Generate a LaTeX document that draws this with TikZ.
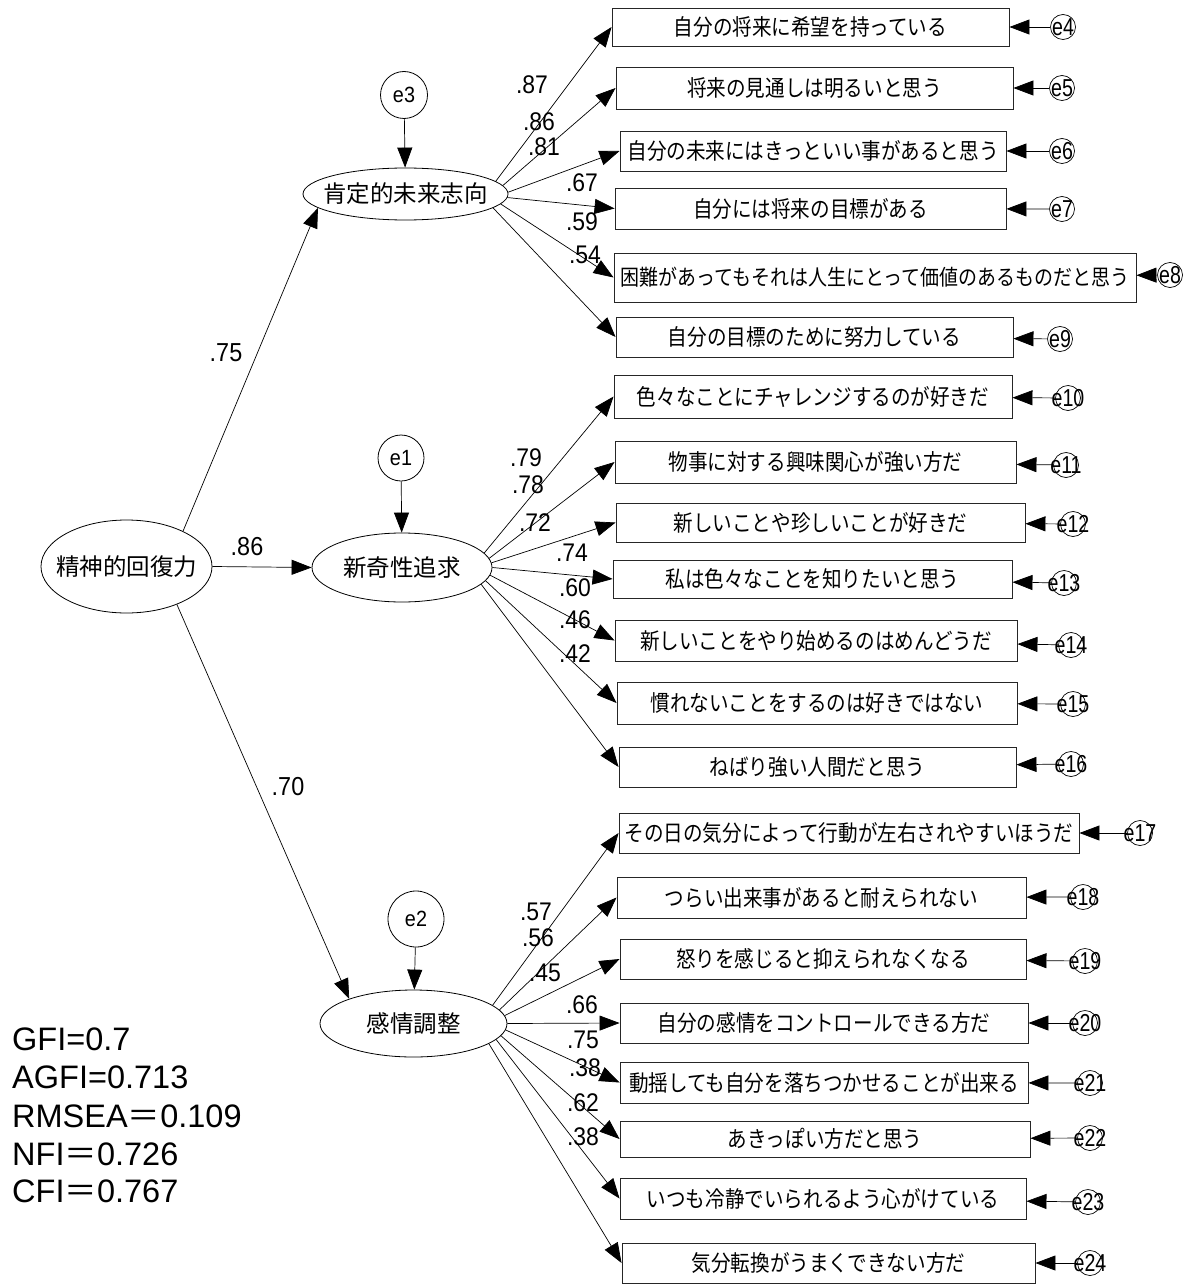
\documentclass[tikz,border=0pt]{standalone}
\usepackage{fontspec}
\setmainfont{Liberation Sans}
\newfontfamily\jpfont{Noto Sans CJK JP}
\newfontfamily\jpboxfont[FakeStretch=0.87]{Noto Sans CJK JP}
\newfontfamily\numfont[FakeStretch=0.9]{Liberation Sans}
\newfontfamily\efont[FakeStretch=0.8]{Liberation Sans}
\usetikzlibrary{arrows.meta,shapes.geometric}
\tikzset{
  latent/.style={draw=black, ellipse, inner xsep=-60pt, inner ysep=-20pt, line width=0.8pt,
    font=\jpfont\fontsize{23.5}{28}\selectfont},
  obsbox/.style={draw=black!85, rectangle, inner sep=0pt, line width=0.9pt,
    font=\jpboxfont\fontsize{22.5}{27}\selectfont},
  ecirc/.style={draw=black, circle, minimum size=25pt, inner sep=-15pt, line width=0.7pt,
    font=\efont\fontsize{24.5}{26}\selectfont},
  bigcirc/.style={draw=black, circle, inner sep=1pt, line width=0.8pt,
    font=\numfont\fontsize{22}{24}\selectfont},
  arr/.style={-{Triangle[length=20pt,width=15pt]}, line width=0.7pt, black},
  lbl/.style={inner sep=0pt, font=\numfont\fontsize{25.5}{28}\selectfont},
  mlbl/.style={inner sep=0pt, font=\numfont\fontsize{26}{30}\selectfont},
  fitidx/.style={inner sep=0pt, anchor=base west, font=\fontsize{32.5}{36}\selectfont}
}
\begin{document}
\begin{tikzpicture}[x=1pt,y=-1pt]
\useasboundingbox[fill=white] (0,0) rectangle (1199,1284);

% latent variables
\node[latent, minimum width=171pt, minimum height=93pt] (F0) at (126.5,566.5) {精神的回復力};
\node[latent, minimum width=205pt, minimum height=52pt] (F1) at (405.5,194) {肯定的未来志向};
\node[latent, minimum width=180pt, minimum height=69pt] (F2) at (402,567.5) {新奇性追求};
\node[latent, minimum width=187pt, minimum height=67pt] (F3) at (413.5,1023.5) {感情調整};

% disturbances
\node[bigcirc, minimum size=47pt] (e3) at (404,95) {e3};
\node[bigcirc, minimum size=46pt] (e1) at (401,458) {e1};
\node[bigcirc, minimum size=56pt] (e2) at (416,919) {e2};
\draw[arr] (e3) -- (F1);
\draw[arr] (e1) -- (F2);
\draw[arr] (e2) -- (F3);

% structural paths
\draw[arr] (F0.32.4) -- (F1.189);
\draw[arr] (F0.east) -- (F2.west);
\draw[arr] (F0.-37.9) -- (F3.159.4);
\node[mlbl] (p1) at (226,353) {.75};
\node[mlbl] (p2) at (247,547) {.86};
\node[mlbl] (p3) at (288,787) {.70};

% group 1 boxes
\node[obsbox, minimum width=397pt, minimum height=38pt] (B4) at (810.5,27) {自分の将来に希望を持っている};
\node[obsbox, minimum width=397pt, minimum height=42pt] (B5) at (814.5,88) {将来の見通しは明るいと思う};
\node[obsbox, minimum width=386pt, minimum height=40pt] (B6) at (813,151) {自分の未来にはきっといい事があると思う};
\node[obsbox, minimum width=391pt, minimum height=41pt] (B7) at (810.5,208.5) {自分には将来の目標がある};
\node[obsbox, minimum width=522pt, minimum height=49pt, font=\jpboxfont\fontsize{21.8}{26}\selectfont] (B8) at (875,277.5) {困難があってもそれは人生にとって価値のあるものだと思う};
\node[obsbox, minimum width=397pt, minimum height=40pt] (B9) at (814.5,337) {自分の目標のために努力している};

% group 2 boxes
\node[obsbox, minimum width=398pt, minimum height=43pt] (B10) at (813,396.5) {色々なことにチャレンジするのが好きだ};
\node[obsbox, minimum width=401pt, minimum height=42pt] (B11) at (815.5,462) {物事に対する興味関心が強い方だ};
\node[obsbox, minimum width=409pt, minimum height=39pt] (B12) at (820.5,522.5) {新しいことや珍しいことが好きだ};
\node[obsbox, minimum width=399pt, minimum height=38pt] (B13) at (812.5,579) {私は色々なことを知りたいと思う};
\node[obsbox, minimum width=402pt, minimum height=41pt] (B14) at (816,640.5) {新しいことをやり始めるのはめんどうだ};
\node[obsbox, minimum width=400pt, minimum height=42pt] (B15) at (817,703) {慣れないことをするのは好きではない};
\node[obsbox, minimum width=397pt, minimum height=40pt] (B16) at (817.5,767) {ねばり強い人間だと思う};

% group 3 boxes
\node[obsbox, minimum width=460pt, minimum height=40pt] (B17) at (849,833) {その日の気分によって行動が左右されやすいほうだ};
\node[obsbox, minimum width=409pt, minimum height=41pt] (B18) at (821.5,897.5) {つらい出来事があると耐えられない};
\node[obsbox, minimum width=406pt, minimum height=40pt] (B19) at (823,959) {怒りを感じると抑えられなくなる};
\node[obsbox, minimum width=408pt, minimum height=40pt] (B20) at (824,1023) {自分の感情をコントロールできる方だ};
\node[obsbox, minimum width=408pt, minimum height=41pt] (B21) at (824,1082.5) {動揺しても自分を落ちつかせることが出来る};
\node[obsbox, minimum width=410pt, minimum height=36pt] (B22) at (825,1139) {あきっぽい方だと思う};
\node[obsbox, minimum width=406pt, minimum height=41pt] (B23) at (823,1198.5) {いつも冷静でいられるよう心がけている};
\node[obsbox, minimum width=413pt, minimum height=40pt] (B24) at (828.5,1263) {気分転換がうまくできない方だ};

% error terms
\foreach \n/\x/\y in {4/1063/27, 5/1062/88, 6/1062/151, 7/1062/209, 8/1170/275, 9/1060/339,
  10/1068/398, 11/1066/465, 12/1073/524, 13/1064/583, 14/1071/645, 15/1073/704, 16/1071/764,
  17/1140/833, 18/1083/897, 19/1085/961, 20/1085/1023, 21/1090/1083, 22/1090/1138, 23/1088/1202, 24/1090/1263}{
  \node[ecirc] (e\n) at (\x,\y) {e\n};
  \draw[arr] (e\n) -- (B\n);
}

% loadings, group 1
\foreach \b/\a in {4/8, 5/5, 6/1, 7/-2, 8/-6, 9/-9}{
  \draw[arr] (F1.\a) -- (B\b.west);
}
% group 2
\foreach \b/\a in {10/10, 11/6.5, 12/3, 13/-0.6, 14/-5.6, 15/-9, 16/-12.6}{
  \draw[arr] (F2.\a) -- (B\b.west);
}
% group 3
\foreach \b/\a in {17/13.5, 18/9.8, 19/5, 20/-0.6, 21/-4.3, 22/-8.2, 23/-11.2, 24/-15}{
  \draw[arr] (F3.\a) -- (B\b.west);
}

% loading labels
\node[lbl] (l4) at (532,85) {.87};
\node[lbl] (l5) at (539,122) {.86};
\node[lbl] (l6) at (544,147) {.81};
\node[lbl] (l7) at (582,183) {.67};
\node[lbl] (l8) at (582,222) {.59};
\node[lbl] (l9) at (585,255) {.54};
\node[lbl] (l10) at (526,458) {.79};
\node[lbl] (l11) at (528,485) {.78};
\node[lbl] (l12) at (535,523) {.72};
\node[lbl] (l13) at (572,553) {.74};
\node[lbl] (l14) at (575,588) {.60};
\node[lbl] (l15) at (575,620) {.46};
\node[lbl] (l16) at (575,654) {.42};
\node[lbl] (l17) at (536,912) {.57};
\node[lbl] (l18) at (538,938) {.56};
\node[lbl] (l19) at (545,973) {.45};
\node[lbl] (l20) at (582,1005) {.66};
\node[lbl] (l21) at (583,1040) {.75};
\node[lbl] (l22) at (585,1068) {.38};
\node[lbl] (l23) at (583,1103) {.62};
\node[lbl] (l24) at (583,1137) {.38};

% fit indices
\node[fitidx] (gfi) at (12,1050) {GFI=0.7};
\node[fitidx] (agfi) at (12,1088) {AGFI=0.713};
\node[fitidx] (rmsea) at (12,1127) {RMSEA{\jpfont ＝}0.109};
\node[fitidx] (nfi) at (12,1165) {NFI{\jpfont ＝}0.726};
\node[fitidx] (cfi) at (12,1202) {CFI{\jpfont ＝}0.767};
\end{tikzpicture}
\end{document}
